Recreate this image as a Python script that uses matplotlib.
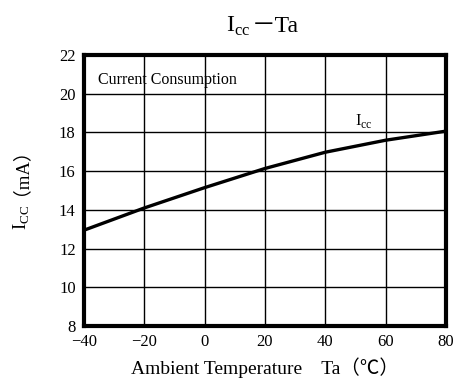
import numpy as np
import matplotlib
matplotlib.use('Agg')
import matplotlib.pyplot as plt

plt.rcParams['font.family'] = ['Liberation Serif', 'Noto Sans CJK JP', 'DejaVu Sans']
plt.rcParams['mathtext.fontset'] = 'custom'
plt.rcParams['mathtext.rm'] = 'Liberation Serif'
plt.rcParams['axes.unicode_minus'] = True

# Icc vs ambient temperature
temp = [-40, -20, 0, 20, 40, 60, 80]
icc = [12.95, 14.1, 15.15, 16.14, 16.98, 17.6, 18.07]

x_ticks = [-40, -20, 0, 20, 40, 60, 80]
y_ticks = [8, 10, 12, 14, 16, 18, 20, 22]

fig = plt.figure(figsize=(4.53, 3.81), dpi=100)
ax = fig.add_axes([0.1854, 0.1444, 0.799, 0.711])

ax.plot(temp, icc, color='black', linewidth=2.4)

ax.set_xlim(-40, 80)
ax.set_ylim(8, 22)
ax.set_xticks(x_ticks)
ax.set_yticks(y_ticks)
ax.set_xticklabels(['\u2212' + str(-t) if t < 0 else str(t) for t in x_ticks])
ax.tick_params(length=0, labelsize=12)
ax.tick_params(axis='x', pad=6)
ax.tick_params(axis='y', pad=6)
ax.grid(True, color='black', linewidth=1.0)
for s in ax.spines.values():
    s.set_linewidth(3)

ax.text(-35.3, 20.7, 'Current Consumption', fontsize=11.5, va='center', ha='left')
ax.text(50, 18.15, r'I$_{\rm cc}$', fontsize=12, va='bottom', ha='left')

# title, split so the fullwidth dash is not parsed as mathtext
fig.text(0.553, 0.916, r'I$_{\rm cc}$', fontsize=17, ha='right', va='baseline')
fig.text(0.555, 0.916, '\uff0dTa', fontsize=17, ha='left', va='baseline')

ax.set_xlabel('Ambient Temperature    Ta\uff08\u2103\uff09', fontsize=14, labelpad=5)

# y label in two pieces for the same reason
fig.text(0.058, 0.396, r'I$_{\rm CC}$', fontsize=13.5, rotation=90,
         rotation_mode='anchor', ha='left', va='baseline')
fig.text(0.035, 0.488, '\uff08mA\uff09', fontsize=13.5, rotation=90,
         rotation_mode='anchor', ha='left', va='baseline')

plt.savefig('out.png', dpi=100)
